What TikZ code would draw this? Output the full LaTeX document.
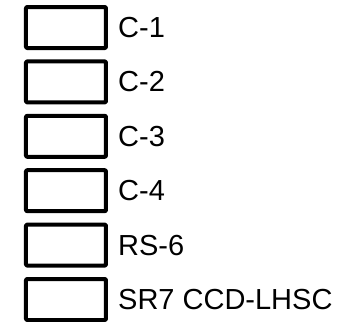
\documentclass[tikz,border=0pt]{standalone}
\usepackage{fontspec}
\setmainfont{Liberation Sans}
\usepackage{tikz}
\usetikzlibrary{positioning}

\begin{document}
\begin{tikzpicture}[x=1pt, y=1pt, node distance=9.4pt]

    \useasboundingbox (0,0) rectangle (360,-322);

    % Legend boxes, stacked from the top
    \node (box1) at (66,-27.5) [draw, rectangle, line width=4pt, line join=round, rounded corners=1pt, minimum width=80pt, minimum height=41pt] {};
    \node (box2) [below=of box1, draw, rectangle, line width=4pt, line join=round, rounded corners=1pt, minimum width=80pt, minimum height=41pt] {};
    \node (box3) [below=of box2, draw, rectangle, line width=4pt, line join=round, rounded corners=1pt, minimum width=80pt, minimum height=41pt] {};
    \node (box4) [below=of box3, draw, rectangle, line width=4pt, line join=round, rounded corners=1pt, minimum width=80pt, minimum height=41pt] {};
    \node (box5) [below=of box4, draw, rectangle, line width=4pt, line join=round, rounded corners=1pt, minimum width=80pt, minimum height=41pt] {};
    \node (box6) [below=of box5, draw, rectangle, line width=4pt, line join=round, rounded corners=1pt, minimum width=80pt, minimum height=41pt] {};

    % Legend texts to the right of each box
    \node (c1) [right=10pt of box1, inner sep=0pt, font=\fontsize{29}{32}\selectfont] {C-1};
    \node (c2) [right=10pt of box2, inner sep=0pt, font=\fontsize{29}{32}\selectfont] {C-2};
    \node (c3) [right=10pt of box3, inner sep=0pt, font=\fontsize{29}{32}\selectfont] {C-3};
    \node (c4) [right=10pt of box4, inner sep=0pt, font=\fontsize{29}{32}\selectfont] {C-4};
    \node (rs6) [right=10pt of box5, inner sep=0pt, font=\fontsize{29}{32}\selectfont] {RS-6};
    \node (sr7) [right=10pt of box6, inner sep=0pt, font=\fontsize{29}{32}\selectfont] {SR7 CCD-LHSC};

\end{tikzpicture}
\end{document}
